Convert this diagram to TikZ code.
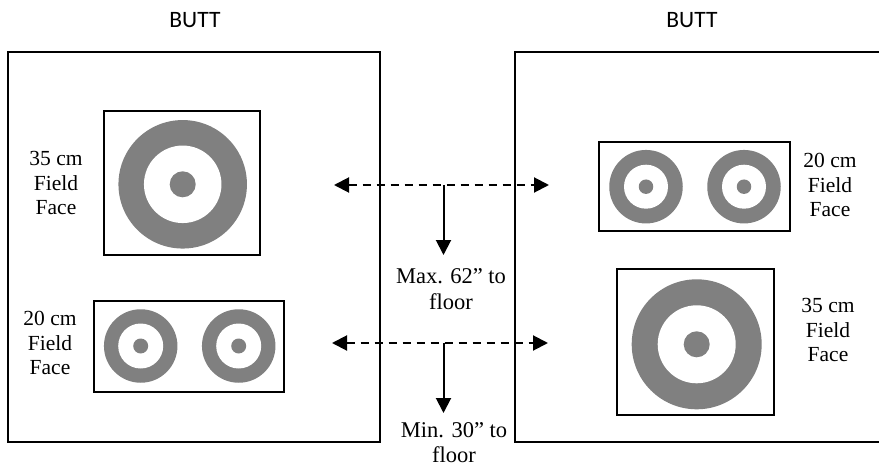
\documentclass[tikz,border=0pt]{standalone}
\usepackage{fontspec}
\setmainfont{Liberation Serif}
\newfontfamily\buttfont{Carlito}
\usetikzlibrary{arrows.meta}
\definecolor{tgrey}{HTML}{808080}
\begin{document}
\begin{tikzpicture}[x=1pt,y=-1pt,
  buttbox/.style={draw=black,line width=1.5pt},
  facebox/.style={draw=black,line width=2pt,fill=white},
  ring/.style={circle,fill=tgrey,inner sep=0pt,minimum size=#1},
  hole/.style={circle,fill=white,inner sep=0pt,minimum size=#1},
  lbl/.style={align=center,font=\fontsize{21.5}{24.5}\selectfont,inner sep=0pt},
  midlbl/.style={align=center,font=\fontsize{22.5}{25.5}\selectfont,inner sep=0pt},
  title/.style={font=\buttfont\fontsize{23.5}{26}\selectfont,inner sep=0pt},
  dasharrow/.style={line width=2pt,dash pattern=on 8pt off 6pt,{Triangle[length=15pt,width=15pt]}-{Triangle[length=15pt,width=15pt]}},
  droparrow/.style={line width=2pt,-{Triangle[length=15pt,width=15pt]}}]
\useasboundingbox (0,0) rectangle (879,468);
% titles
\node[title] (t1) at (195,20) {BUTT};
\node[title] (t2) at (692,20) {BUTT};
% butts
\draw[buttbox] (8,52) rectangle (380,442);
\draw[buttbox] (881,52) -- (515,52) -- (515,442) -- (881,442);
% left butt: 35 cm face
\node[facebox,minimum width=156pt,minimum height=144pt,inner sep=0pt] (f1) at (182,183) {};
\node[ring=128.5pt] (r1) at (182.7,184.3) {};
\node[hole=77.5pt] (h1) at (r1) {};
\node[ring=26pt] (b1) at (r1) {};
% left butt: 20 cm face
\node[facebox,minimum width=190pt,minimum height=91pt,inner sep=0pt] (f2) at (188.7,346) {};
\node[ring=73.5pt] (r2a) at (140.7,346) {};
\node[hole=45pt] (h2a) at (r2a) {};
\node[ring=15pt] (b2a) at (r2a) {};
\node[ring=73.5pt] (r2b) at (238.7,346) {};
\node[hole=45pt] (h2b) at (r2b) {};
\node[ring=15pt] (b2b) at (r2b) {};
% right butt: 20 cm face
\node[facebox,minimum width=191pt,minimum height=89pt,inner sep=0pt] (f3) at (694.3,186.2) {};
\node[ring=73.5pt] (r3a) at (646,186.7) {};
\node[hole=44pt] (h3a) at (r3a) {};
\node[ring=14.5pt] (b3a) at (r3a) {};
\node[ring=73.5pt] (r3b) at (744,186.7) {};
\node[hole=44pt] (h3b) at (r3b) {};
\node[ring=14.5pt] (b3b) at (r3b) {};
% right butt: 35 cm face
\node[facebox,minimum width=157pt,minimum height=145.7pt,inner sep=0pt] (f4) at (695.8,342.2) {};
\node[ring=130pt] (r4) at (696.7,344.3) {};
\node[hole=78pt] (h4) at (r4) {};
\node[ring=26pt] (b4) at (r4) {};
% labels
\node[lbl] (l1) at (56,183) {35 cm\\Field\\Face};
\node[lbl] (l2) at (50,343) {20 cm\\Field\\Face};
\node[lbl] (l3) at (830,185) {20 cm\\Field\\Face};
\node[lbl] (l4) at (828,330) {35 cm\\Field\\Face};
\node[midlbl] (m1) at (451,289) {Max. 62'' to\\floor};
\node[midlbl] (m2) at (454,442.5) {Min. 30'' to\\floor};
% arrows
\coordinate (a1l) at (334,185);
\coordinate (a1r) at (549,185);
\coordinate (a1m) at (443.5,185);
\coordinate (a1d) at (443.5,255);
\coordinate (a2l) at (332,343);
\coordinate (a2r) at (548,343);
\coordinate (a2m) at (443.5,343);
\coordinate (a2d) at (443.5,413);
\draw[dasharrow] (a1l) -- (a1r);
\draw[droparrow] (a1m) -- (a1d);
\draw[dasharrow] (a2l) -- (a2r);
\draw[droparrow] (a2m) -- (a2d);
\end{tikzpicture}
\end{document}
